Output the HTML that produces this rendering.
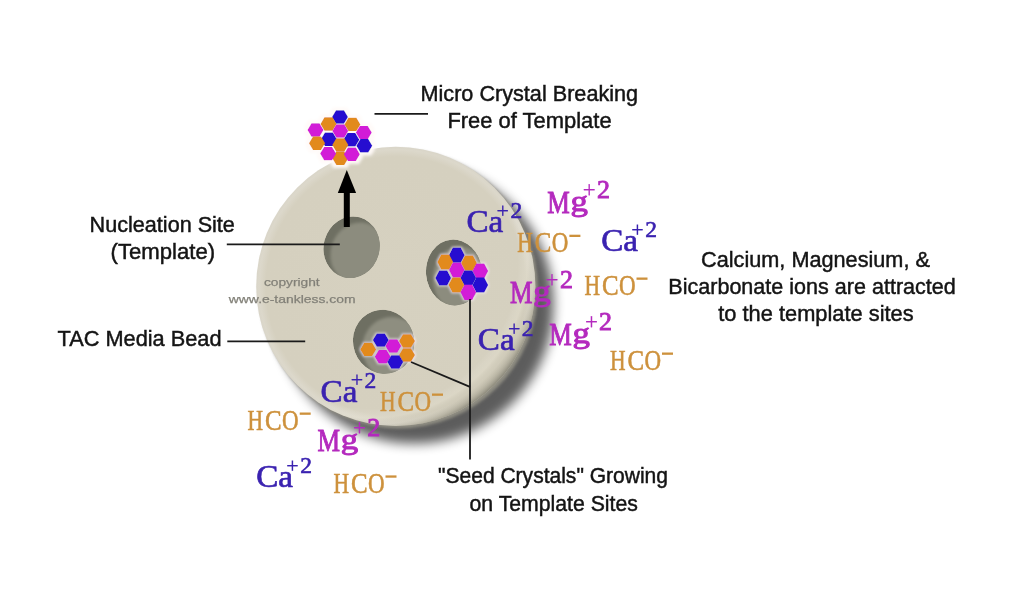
<!DOCTYPE html>
<html><head><meta charset="utf-8"><style>
html,body{margin:0;padding:0;background:#fff;width:1024px;height:604px;overflow:hidden}
svg{display:block;filter:blur(0.35px)}
.l{font-family:"Liberation Sans",sans-serif;font-size:21.5px;fill:#141414;stroke:#141414;stroke-width:0.45px}
.i{font-family:"Liberation Serif",serif;stroke-width:0.7px}
.ca{fill:#3a22b0;stroke:#3a22b0;stroke-width:0.65px}
.mg{fill:#b42abe;stroke:#b42abe;stroke-width:0.95px}
.hc{fill:#cd913c;stroke:#cd913c;stroke-width:0.6px}
</style></head><body>
<svg width="1024" height="604" viewBox="0 0 1024 604">
<defs>
<filter id="sh" x="-30%" y="-30%" width="160%" height="160%"><feGaussianBlur stdDeviation="6"/></filter>
<radialGradient id="wall" cx="0.5" cy="0.5" r="0.5"><stop offset="0.9" stop-color="#b9b7a9"/><stop offset="1" stop-color="#8a887e"/></radialGradient>
<radialGradient id="bead" cx="0.5" cy="0.5" r="0.5">
<stop offset="0" stop-color="#d6d1c0"/><stop offset="0.93" stop-color="#d5d0bf"/><stop offset="0.98" stop-color="#dcd8cb"/><stop offset="1" stop-color="#d9d5c8"/>
</radialGradient>
<radialGradient id="rim" gradientUnits="userSpaceOnUse" cx="370.8" cy="261.4" r="175">
<stop offset="0.84" stop-color="#fff" stop-opacity="0"/><stop offset="0.895" stop-color="#f4f0e0" stop-opacity="0.2"/><stop offset="0.935" stop-color="#a09c88" stop-opacity="0.1"/><stop offset="0.97" stop-color="#8a8672" stop-opacity="0.45"/><stop offset="1" stop-color="#6e6c5e" stop-opacity="0.75"/>
</radialGradient>
<radialGradient id="hole" cx="0.6" cy="0.6" r="0.6">
<stop offset="0" stop-color="#8e8e7e"/><stop offset="0.75" stop-color="#8a8a7a"/><stop offset="1" stop-color="#6e6e60"/>
</radialGradient>
<path id="hx" d="M-8,0 L-4,-6.7 L4,-6.7 L8,0 L4,6.7 L-4,6.7Z"/>
<path id="hx2" d="M-7.9,0 L-3.95,-7.6 L3.95,-7.6 L7.9,0 L3.95,7.6 L-3.95,7.6Z"/>
<clipPath id="c0"><ellipse cx="351.6" cy="247.3" rx="28" ry="31" transform="rotate(15 351.6 247.3)"/></clipPath>
<clipPath id="c1"><ellipse cx="454" cy="272.5" rx="28" ry="33" transform="rotate(-5 454 272.5)"/></clipPath>
<clipPath id="c2"><ellipse cx="383.6" cy="341.7" rx="30.5" ry="32.2" transform="rotate(-20 383.6 341.7)"/></clipPath>
<filter id="glow" x="-20%" y="-20%" width="140%" height="140%"><feMorphology in="SourceAlpha" operator="dilate" radius="1.2" result="d"/><feGaussianBlur in="d" stdDeviation="0.8" result="b"/><feFlood flood-color="#fbf0ff" flood-opacity="0.6"/><feComposite in2="b" operator="in" result="g"/><feMerge><feMergeNode in="g"/><feMergeNode in="SourceGraphic"/></feMerge></filter>
<filter id="glow2" x="-30%" y="-30%" width="160%" height="160%"><feMorphology in="SourceAlpha" operator="dilate" radius="2.5" result="d"/><feGaussianBlur in="d" stdDeviation="1.5" result="b"/><feFlood flood-color="#fffaf8" flood-opacity="0.95"/><feComposite in2="b" operator="in" result="g"/><feMerge><feMergeNode in="g"/><feMergeNode in="SourceGraphic"/></feMerge></filter>
<filter id="hb" x="-20%" y="-20%" width="140%" height="140%"><feGaussianBlur stdDeviation="1.5"/></filter>
</defs>
<!-- shadow -->
<circle cx="414" cy="304" r="139.6" fill="#000" opacity="0.64" filter="url(#sh)"/>
<!-- bead -->
<circle cx="398.3" cy="288.9" r="139.6" fill="#8f8d82" filter="url(#hb)"/>
<circle cx="395.8" cy="286.4" r="139.6" fill="url(#bead)"/>
<circle cx="395.8" cy="286.4" r="139.6" fill="url(#rim)"/>
<!-- holes -->
<g clip-path="url(#c0)"><ellipse cx="351.6" cy="247.3" rx="28" ry="31" transform="rotate(15 351.6 247.3)" fill="#6e6f62"/><ellipse cx="358.6" cy="253.3" rx="28" ry="31" transform="rotate(15 358.6 253.3)" fill="#8c8c7e" filter="url(#hb)"/></g>
<g clip-path="url(#c1)"><ellipse cx="454" cy="272.5" rx="28" ry="33" transform="rotate(-5 454 272.5)" fill="#6e6f62"/><ellipse cx="461" cy="279.5" rx="28" ry="33" transform="rotate(-5 461 279.5)" fill="#8c8c7e" filter="url(#hb)"/></g>
<g clip-path="url(#c2)"><ellipse cx="383.6" cy="341.7" rx="30.5" ry="32.2" transform="rotate(-20 383.6 341.7)" fill="#6e6f62"/><ellipse cx="393.1" cy="348.9" rx="30.5" ry="32.2" transform="rotate(-20 393.1 348.9)" fill="#8e8e80" filter="url(#hb)"/></g>
<!-- top crystal -->
<g filter="url(#glow2)">
<use href="#hx" x="340" y="117" fill="#2810d0"/>
<use href="#hx" x="328.5" y="124" fill="#e28a1c"/>
<use href="#hx" x="352.4" y="124.4" fill="#e28a1c"/>
<use href="#hx" x="315.5" y="130" fill="#d21cd7"/>
<use href="#hx" x="340.3" y="131" fill="#d21cd7"/>
<use href="#hx" x="363.8" y="132.6" fill="#d21cd7"/>
<use href="#hx" x="328.9" y="139.3" fill="#2810d0"/>
<use href="#hx" x="351.4" y="139.8" fill="#2810d0"/>
<use href="#hx" x="364.3" y="145.8" fill="#2810d0"/>
<use href="#hx" x="317" y="143.3" fill="#e28a1c"/>
<use href="#hx" x="340.3" y="145" fill="#e28a1c"/>
<use href="#hx" x="340.3" y="158.3" fill="#e28a1c"/>
<use href="#hx" x="328.1" y="153.6" fill="#d21cd7"/>
<use href="#hx" x="351.9" y="154.2" fill="#d21cd7"/>
</g>
<!-- hole 2 crystal -->
<g filter="url(#glow)">
<use href="#hx2" x="456.8" y="255.2" fill="#2810d0"/>
<use href="#hx2" x="445.2" y="262" fill="#e28a1c"/>
<use href="#hx2" x="469" y="263" fill="#e28a1c"/>
<use href="#hx2" x="456.8" y="270" fill="#d21cd7"/>
<use href="#hx2" x="480.3" y="271" fill="#d21cd7"/>
<use href="#hx2" x="443.2" y="278" fill="#2810d0"/>
<use href="#hx2" x="468.3" y="278" fill="#2810d0"/>
<use href="#hx2" x="480.3" y="285" fill="#2810d0"/>
<use href="#hx2" x="456.4" y="285" fill="#e28a1c"/>
<use href="#hx2" x="468.3" y="292.3" fill="#d21cd7"/>
</g>
<!-- hole 3 crystal -->
<g filter="url(#glow)">
<use href="#hx" x="368.2" y="349.4" fill="#e28a1c"/>
<use href="#hx" x="407" y="341" fill="#e28a1c"/>
<use href="#hx" x="407" y="355" fill="#e28a1c"/>
<use href="#hx" x="380.8" y="340.1" fill="#2810d0"/>
<use href="#hx" x="393.3" y="346" fill="#d21cd7"/>
<use href="#hx" x="382.7" y="356.7" fill="#d21cd7"/>
<use href="#hx" x="395.3" y="362" fill="#2810d0"/>
</g>
<!-- arrow -->
<rect x="343.8" y="190" width="6" height="37" fill="#000"/>
<path d="M346.8,170 L337.8,193 L356.1,193Z" fill="#000"/>
<!-- lines -->
<g stroke="#1a1a1a" stroke-width="1.8" fill="none">
<line x1="374.5" y1="113.8" x2="428" y2="113.8"/>
<line x1="226.8" y1="244.4" x2="339.8" y2="244.4"/>
<line x1="227.3" y1="341.3" x2="305.2" y2="341.3"/>
<line x1="470" y1="299" x2="470" y2="459.5"/>
<line x1="411" y1="362" x2="470" y2="386.8"/>
</g>
<!-- watermark -->
<text x="263.9" y="286.1" font-family="Liberation Sans" font-size="11.5" fill="#828078" stroke="#828078" stroke-width="0.25" textLength="55.7" lengthAdjust="spacingAndGlyphs">copyright</text>
<text x="228.8" y="303" font-family="Liberation Sans" font-size="11.5" fill="#828078" stroke="#828078" stroke-width="0.25" textLength="126.7" lengthAdjust="spacingAndGlyphs">www.e-tankless.com</text>
<!-- ions -->
<g>
<text class="i ca" x="466.4" y="232.2" font-size="31.5" textLength="36.8" lengthAdjust="spacingAndGlyphs">Ca</text>
<text class="i ca" x="496.5" y="217.5" font-size="22" style="stroke-width:0.3px">+</text>
<text class="i ca" x="510.4" y="218.1" font-size="23.5">2</text>
<text class="i ca" x="601.2" y="251.2" font-size="31.5" textLength="36.8" lengthAdjust="spacingAndGlyphs">Ca</text>
<text class="i ca" x="631.3" y="236.5" font-size="22" style="stroke-width:0.3px">+</text>
<text class="i ca" x="645.2" y="237.1" font-size="23.5">2</text>
<text class="i ca" x="477.8" y="350.2" font-size="31.5" textLength="36.8" lengthAdjust="spacingAndGlyphs">Ca</text>
<text class="i ca" x="507.9" y="335.6" font-size="22" style="stroke-width:0.3px">+</text>
<text class="i ca" x="521.8" y="336.1" font-size="23.5">2</text>
<text class="i ca" x="320.6" y="402.0" font-size="31.5" textLength="36.8" lengthAdjust="spacingAndGlyphs">Ca</text>
<text class="i ca" x="350.7" y="387.4" font-size="22" style="stroke-width:0.3px">+</text>
<text class="i ca" x="364.6" y="387.9" font-size="23.5">2</text>
<text class="i ca" x="256.2" y="487.3" font-size="31.5" textLength="36.8" lengthAdjust="spacingAndGlyphs">Ca</text>
<text class="i ca" x="286.3" y="472.7" font-size="22" style="stroke-width:0.3px">+</text>
<text class="i ca" x="300.2" y="473.2" font-size="23.5">2</text>
<text class="i mg" x="547.2" y="213.1" font-size="32" textLength="22.5" lengthAdjust="spacingAndGlyphs">M</text>
<text class="i mg" x="570.4" y="211.1" font-size="29" textLength="17.4" lengthAdjust="spacingAndGlyphs">g</text>
<text class="i mg" x="582.8" y="196.9" font-size="23" style="stroke-width:0.2px">+</text>
<text class="i mg" x="597.0" y="197.9" font-size="26" style="stroke-width:0.9px">2</text>
<text class="i mg" x="510.1" y="303.0" font-size="32" textLength="22.5" lengthAdjust="spacingAndGlyphs">M</text>
<text class="i mg" x="533.3" y="301.0" font-size="29" textLength="17.4" lengthAdjust="spacingAndGlyphs">g</text>
<text class="i mg" x="545.6" y="286.8" font-size="23" style="stroke-width:0.2px">+</text>
<text class="i mg" x="559.9" y="287.8" font-size="26" style="stroke-width:0.9px">2</text>
<text class="i mg" x="549.3" y="345.1" font-size="32" textLength="22.5" lengthAdjust="spacingAndGlyphs">M</text>
<text class="i mg" x="572.5" y="343.1" font-size="29" textLength="17.4" lengthAdjust="spacingAndGlyphs">g</text>
<text class="i mg" x="584.9" y="328.9" font-size="23" style="stroke-width:0.2px">+</text>
<text class="i mg" x="599.1" y="329.9" font-size="26" style="stroke-width:0.9px">2</text>
<text class="i mg" x="317.5" y="451.3" font-size="32" textLength="22.5" lengthAdjust="spacingAndGlyphs">M</text>
<text class="i mg" x="340.7" y="449.3" font-size="29" textLength="17.4" lengthAdjust="spacingAndGlyphs">g</text>
<text class="i mg" x="353.1" y="435.1" font-size="23" style="stroke-width:0.2px">+</text>
<text class="i mg" x="367.3" y="436.1" font-size="26" style="stroke-width:0.9px">2</text>
<g class="i hc" font-size="30"><text x="517.3" y="251.9" textLength="15.55" lengthAdjust="spacingAndGlyphs">H</text><text x="534.8" y="251.9" textLength="16.59" lengthAdjust="spacingAndGlyphs">C</text><text x="551.8" y="251.9" textLength="16.59" lengthAdjust="spacingAndGlyphs">O</text></g>
<rect fill="#cd913c" x="569.4" y="234.7" width="11" height="2.3"/>
<g class="i hc" font-size="30"><text x="584.4" y="294.7" textLength="15.55" lengthAdjust="spacingAndGlyphs">H</text><text x="601.9" y="294.7" textLength="16.59" lengthAdjust="spacingAndGlyphs">C</text><text x="618.9" y="294.7" textLength="16.59" lengthAdjust="spacingAndGlyphs">O</text></g>
<rect fill="#cd913c" x="636.5" y="277.5" width="11" height="2.3"/>
<g class="i hc" font-size="30"><text x="609.9" y="369.7" textLength="15.55" lengthAdjust="spacingAndGlyphs">H</text><text x="627.4" y="369.7" textLength="16.59" lengthAdjust="spacingAndGlyphs">C</text><text x="644.4" y="369.7" textLength="16.59" lengthAdjust="spacingAndGlyphs">O</text></g>
<rect fill="#cd913c" x="662.0" y="352.5" width="11" height="2.3"/>
<g class="i hc" font-size="30"><text x="379.9" y="410.7" textLength="15.55" lengthAdjust="spacingAndGlyphs">H</text><text x="397.4" y="410.7" textLength="16.59" lengthAdjust="spacingAndGlyphs">C</text><text x="414.4" y="410.7" textLength="16.59" lengthAdjust="spacingAndGlyphs">O</text></g>
<rect fill="#cd913c" x="432.0" y="393.5" width="11" height="2.3"/>
<g class="i hc" font-size="30"><text x="247.6" y="429.7" textLength="15.55" lengthAdjust="spacingAndGlyphs">H</text><text x="265.1" y="429.7" textLength="16.59" lengthAdjust="spacingAndGlyphs">C</text><text x="282.1" y="429.7" textLength="16.59" lengthAdjust="spacingAndGlyphs">O</text></g>
<rect fill="#cd913c" x="299.7" y="412.5" width="11" height="2.3"/>
<g class="i hc" font-size="30"><text x="333.4" y="492.6" textLength="15.55" lengthAdjust="spacingAndGlyphs">H</text><text x="350.9" y="492.6" textLength="16.59" lengthAdjust="spacingAndGlyphs">C</text><text x="367.9" y="492.6" textLength="16.59" lengthAdjust="spacingAndGlyphs">O</text></g>
<rect fill="#cd913c" x="385.5" y="475.4" width="11" height="2.3"/>
</g>
<!-- labels -->
<text class="l" x="420.5" y="100.7" textLength="217.6" lengthAdjust="spacingAndGlyphs">Micro Crystal Breaking</text>
<text class="l" x="447.4" y="128.2" textLength="164.2" lengthAdjust="spacingAndGlyphs">Free of Template</text>
<text class="l" x="89.6" y="231.5" textLength="145.3" lengthAdjust="spacingAndGlyphs">Nucleation Site</text>
<text class="l" x="110.6" y="258.7" textLength="104.5" lengthAdjust="spacingAndGlyphs">(Template)</text>
<text class="l" x="57.5" y="346" textLength="164.0" lengthAdjust="spacingAndGlyphs">TAC Media Bead</text>
<text class="l" x="701.1" y="266.6" textLength="228.8" lengthAdjust="spacingAndGlyphs">Calcium, Magnesium, &amp;</text>
<text class="l" x="668.3" y="293.8" textLength="287.5" lengthAdjust="spacingAndGlyphs">Bicarbonate ions are attracted</text>
<text class="l" x="718.3" y="320.6" textLength="195.3" lengthAdjust="spacingAndGlyphs">to the template sites</text>
<text class="l" x="438.0" y="483.4" textLength="230.0" lengthAdjust="spacingAndGlyphs">"Seed Crystals" Growing</text>
<text class="l" x="469.5" y="510.7" textLength="168.4" lengthAdjust="spacingAndGlyphs">on Template Sites</text>
</svg>
</body></html>
